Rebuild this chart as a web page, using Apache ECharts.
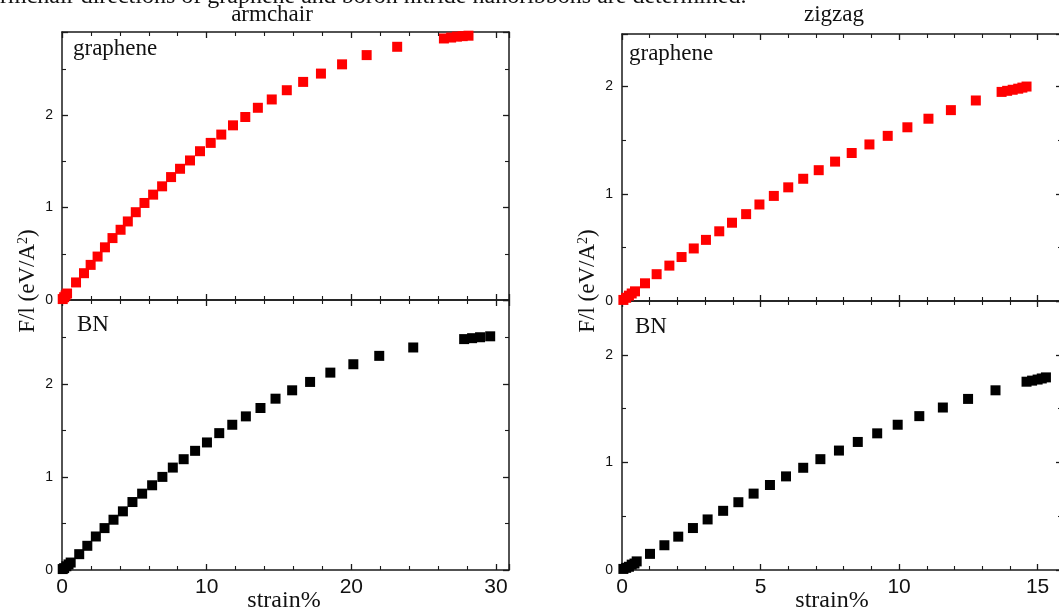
<!DOCTYPE html>
<html lang="en">
<head>
<meta charset="UTF-8">
<title>F/l vs strain - armchair / zigzag</title>
<style>
    html, body { margin: 0; padding: 0; background: #fff; overflow: hidden; }
    #chart { width: 1070px; height: 615px; }
</style>
</head>
<body>
<div id="chart"></div>
<script src="https://cdn.jsdelivr.net/npm/echarts@6/dist/echarts.min.js"></script>
<script>
// armchair - graphene (red)
var armGrapheneStrain = [0.05, 0.15, 0.25, 0.35, 0.97, 1.52, 1.98, 2.46, 2.97, 3.49, 4.05, 4.55, 5.1, 5.7, 6.3, 6.92, 7.54, 8.16, 8.85, 9.54, 10.28, 11.01, 11.82, 12.67, 13.54, 14.5, 15.54, 16.67, 17.9, 19.36, 21.06, 23.17, 26.4, 26.9, 27.3, 27.7, 28.1];
var armGrapheneForce  = [0.01, 0.03, 0.05, 0.07, 0.19, 0.29, 0.38, 0.47, 0.57, 0.67, 0.76, 0.85, 0.95, 1.05, 1.14, 1.23, 1.33, 1.42, 1.51, 1.61, 1.70, 1.79, 1.89, 1.98, 2.08, 2.17, 2.27, 2.36, 2.45, 2.55, 2.65, 2.74, 2.83, 2.84, 2.85, 2.855, 2.86];

// armchair - BN (black)
var armBNStrain = [0.05, 0.15, 0.3, 0.45, 0.6, 1.19, 1.75, 2.34, 2.94, 3.56, 4.21, 4.87, 5.54, 6.23, 6.94, 7.66, 8.41, 9.2, 10.02, 10.87, 11.77, 12.71, 13.72, 14.76, 15.91, 17.15, 18.55, 20.14, 21.93, 24.28, 27.8, 28.35, 28.9, 29.6];
var armBNForce  = [0.01, 0.02, 0.04, 0.06, 0.08, 0.17, 0.26, 0.36, 0.45, 0.54, 0.63, 0.73, 0.82, 0.91, 1.0, 1.10, 1.19, 1.28, 1.37, 1.47, 1.56, 1.65, 1.74, 1.84, 1.93, 2.02, 2.12, 2.21, 2.30, 2.39, 2.48, 2.49, 2.50, 2.51];

// zigzag - graphene (red)
var zigGrapheneStrain = [0.05, 0.15, 0.25, 0.35, 0.47, 0.83, 1.25, 1.71, 2.15, 2.59, 3.03, 3.51, 3.97, 4.48, 4.96, 5.48, 6.0, 6.54, 7.1, 7.69, 8.29, 8.93, 9.59, 10.3, 11.06, 11.87, 12.77, 13.7, 13.9, 14.1, 14.3, 14.45, 14.6];
var zigGrapheneForce  = [0.01, 0.03, 0.05, 0.07, 0.09, 0.165, 0.25, 0.33, 0.41, 0.49, 0.57, 0.65, 0.73, 0.81, 0.90, 0.98, 1.06, 1.14, 1.22, 1.30, 1.38, 1.46, 1.54, 1.62, 1.70, 1.78, 1.87, 1.95, 1.96, 1.97, 1.98, 1.99, 2.0];

// zigzag - BN (black)
var zigBNStrain = [0.05, 0.15, 0.25, 0.35, 0.45, 0.53, 1.01, 1.53, 2.03, 2.56, 3.09, 3.65, 4.2, 4.75, 5.34, 5.92, 6.54, 7.16, 7.83, 8.51, 9.21, 9.95, 10.73, 11.58, 12.49, 13.48, 14.6, 14.8, 15.0, 15.15, 15.3];
var zigBNForce  = [0.01, 0.02, 0.03, 0.05, 0.06, 0.08, 0.15, 0.23, 0.31, 0.39, 0.47, 0.55, 0.63, 0.71, 0.79, 0.87, 0.95, 1.03, 1.11, 1.19, 1.27, 1.35, 1.43, 1.51, 1.59, 1.67, 1.75, 1.76, 1.77, 1.78, 1.79];

// tick labels
var armStrainTicks = [0, 10, 20, 30];
var zigStrainTicks = [0, 5, 10, 15];
var forceTicks = [0, 1, 2];

var serif = "'Liberation Serif', 'Times New Roman', serif";
var sans = "'Liberation Sans', Arial, sans-serif";
var axisColor = '#1a1a1a';

function pairs(xs, ys) {
    var out = [];
    for (var i = 0; i < xs.length; i++) out.push([xs[i], ys[i]]);
    return out;
}

function tickFormatter(ticks) {
    return function (v) {
        return ticks.indexOf(Math.round(v * 1000) / 1000) > -1 ? String(v) : '';
    };
}

// one value axis per border side, ticks pointing inward
function sideAxis(grid, pos, max, step, minor, ticks, labelSize, margin) {
    return {
        type: 'value', gridIndex: grid, position: pos,
        min: 0, max: max, interval: step,
        axisLine: { show: true, onZero: false, lineStyle: { color: axisColor, width: 1.5 } },
        axisTick: { show: true, inside: true, length: 6, lineStyle: { color: axisColor, width: 1.3 } },
        minorTick: { show: true, splitNumber: minor, length: 4, lineStyle: { color: axisColor, width: 1.1 } },
        splitLine: { show: false },
        minorSplitLine: { show: false },
        axisLabel: ticks ? {
            show: true, fontFamily: sans, fontSize: labelSize, color: '#111', margin: margin,
            formatter: tickFormatter(ticks)
        } : { show: false }
    };
}

var grids = [
    { left: 62,  top: 32,  width: 447, height: 268 },
    { left: 62,  top: 300, width: 447, height: 270 },
    { left: 622, top: 34,  width: 440, height: 267 },
    { left: 622, top: 301, width: 440, height: 269 }
];

var panels = [
    { xmax: 30.9, xstep: 10, xminor: 5, xticks: null,           ymax: 2.9 },
    { xmax: 30.9, xstep: 10, xminor: 5, xticks: armStrainTicks, ymax: 2.9 },
    { xmax: 15.88, xstep: 5, xminor: 5, xticks: null,           ymax: 2.49 },
    { xmax: 15.88, xstep: 5, xminor: 5, xticks: zigStrainTicks, ymax: 2.5 }
];

var xAxes = [], yAxes = [];
panels.forEach(function (p, g) {
    xAxes.push(sideAxis(g, 'bottom', p.xmax, p.xstep, p.xminor, p.xticks, 21, 7));
    xAxes.push(sideAxis(g, 'top', p.xmax, p.xstep, p.xminor, null));
    yAxes.push(sideAxis(g, 'left', p.ymax, 1, 2, forceTicks, 14, 9));
    yAxes.push(sideAxis(g, 'right', p.ymax, 1, 2, null));
});

function scatter(g, name, xs, ys, color) {
    return {
        type: 'scatter', name: name,
        xAxisIndex: 2 * g, yAxisIndex: 2 * g,
        symbol: 'rect', symbolSize: 10,
        itemStyle: { color: color, opacity: 1 },
        clip: false,
        data: pairs(xs, ys)
    };
}

function label(text, x, y, size, align) {
    return {
        type: 'text', x: x, y: y, silent: true,
        style: { text: text, font: size + 'px ' + serif, fill: '#111', align: align || 'center', verticalAlign: 'middle' }
    };
}

function yName(x) {
    return {
        type: 'text', x: x, y: 281, rotation: Math.PI / 2, silent: true,
        style: {
            text: 'F/l (eV/A{s|2})', font: '23px ' + serif, fill: '#111',
            align: 'center', verticalAlign: 'middle',
            rich: { s: { fontSize: 14, fontFamily: serif, verticalAlign: 'top', fill: '#111' } }
        }
    };
}

var chart = echarts.init(document.getElementById('chart'));
chart.setOption({
    backgroundColor: '#fff',
    animation: false,
    grid: grids,
    xAxis: xAxes,
    yAxis: yAxes,
    series: [
        scatter(0, 'armchair graphene', armGrapheneStrain, armGrapheneForce, '#ff0000'),
        scatter(1, 'armchair BN', armBNStrain, armBNForce, '#000000'),
        scatter(2, 'zigzag graphene', zigGrapheneStrain, zigGrapheneForce, '#ff0000'),
        scatter(3, 'zigzag BN', zigBNStrain, zigBNForce, '#000000')
    ],
    graphic: [
        label('rmchair directions of graphene and boron nitride nanoribbons are determined.', 0, -3, 24, 'left'),
        label('armchair', 272, 15, 23),
        label('zigzag', 834, 15, 23),
        label('graphene', 73, 49, 23, 'left'),
        label('BN', 77, 325, 23, 'left'),
        label('graphene', 629, 54, 23, 'left'),
        label('BN', 635, 327, 23, 'left'),
        label('strain%', 284, 601, 24),
        label('strain%', 832, 601, 24),
        yName(28),
        yName(588)
    ]
});
</script>
</body>
</html>
